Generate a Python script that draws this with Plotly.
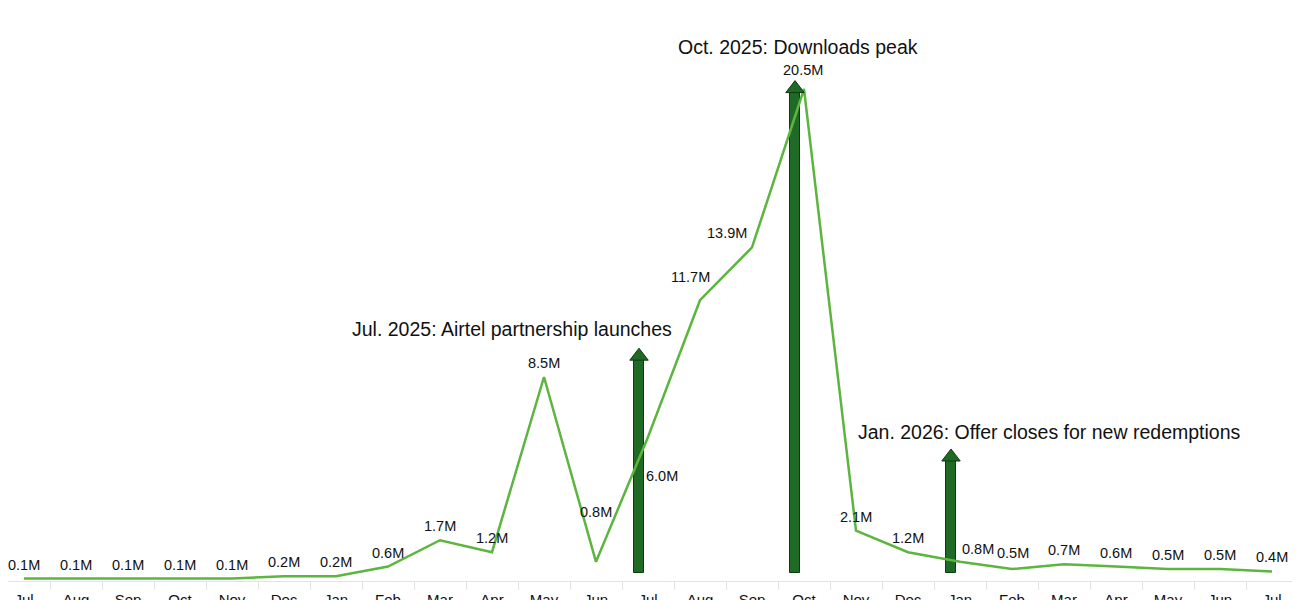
import plotly.graph_objects as go

# Monthly downloads, Jul 2024 - Jul 2026 (millions)
months = ["Jul", "Aug", "Sep", "Oct", "Nov", "Dec", "Jan", "Feb", "Mar", "Apr", "May", "Jun",
          "Jul", "Aug", "Sep", "Oct", "Nov", "Dec", "Jan", "Feb", "Mar", "Apr", "May", "Jun", "Jul"]
downloads = [0.1, 0.1, 0.1, 0.1, 0.1, 0.2, 0.2, 0.6, 1.7, 1.2, 8.5, 0.8,
             6.0, 11.7, 13.9, 20.5, 2.1, 1.2, 0.8, 0.5, 0.7, 0.6, 0.5, 0.5, 0.4]

# Event markers (arrows): month index, arrow tip value, caption
event_idx = [12, 15, 18]
event_tip = [9.7, 20.85, 5.5]
event_text = ["Jul. 2025: Airtel partnership launches",
              "Oct. 2025: Downloads peak",
              "Jan. 2026: Offer closes for new redemptions"]

x = list(range(len(months)))

# pixel helpers (24 px per million, 52 px per month)
PX_Y = 1 / 24
PX_X = 1 / 52
arrow_dx = -9 * PX_X
arrow_base = 0.35

LINE_GREEN = "#5cb53f"
ARROW_GREEN = "#1f6b26"
ARROW_EDGE = "#0e3a12"
FONT = "Arial, Liberation Sans, sans-serif"

fig = go.Figure()

fig.add_trace(
    go.Scatter(
        x=x,
        y=downloads,
        mode="lines",
        line=dict(color=LINE_GREEN, width=2.5),
        hoverinfo="skip",
    )
)

# arrow shafts
shaft_top = [t - 11 * PX_Y for t in event_tip]
fig.add_trace(
    go.Bar(
        x=[event_idx[i] + arrow_dx for i in range(3)],
        y=[s - arrow_base for s in shaft_top],
        base=arrow_base,
        width=10 * PX_X,
        marker=dict(color=ARROW_GREEN, line=dict(color=ARROW_EDGE, width=1)),
        hoverinfo="skip",
    )
)
# arrow heads
fig.add_trace(
    go.Scatter(
        x=[event_idx[i] + arrow_dx for i in range(3)],
        y=[t - 8 * PX_Y for t in event_tip],
        mode="markers",
        marker=dict(symbol="triangle-up", size=16, color=ARROW_GREEN,
                    line=dict(color=ARROW_EDGE, width=1)),
        hoverinfo="skip",
    )
)

# value labels (default: centred ~14px above the point; a few nudged)
label_shift = {11: (0, 50), 12: (14, -39), 13: (-10, 23), 14: (-25, 14),
               15: (-1, 19), 18: (18, 13), 19: (1, 16)}
for i, v in enumerate(downloads):
    dx, dy = label_shift.get(i, (0, 14))
    fig.add_annotation(
        x=i, y=v, text=f"{v:.1f}M", showarrow=False,
        xshift=dx, yshift=dy,
        font=dict(family=FONT, size=14.5, color="#111111"),
    )

# event captions
caption_pos = [(9.38, 10.48), (14.88, 22.27), (19.73, 6.19)]
for (cx, cy), txt in zip(caption_pos, event_text):
    fig.add_annotation(
        x=cx, y=cy, text=txt, showarrow=False,
        font=dict(family=FONT, size=19.5, color="#111111"),
    )

# page has an 8px body margin; place the axes so month centres land where the reference has them
x0 = -16 * PX_X
fig.update_layout(
    width=1300,
    height=600,
    margin=dict(l=0, r=0, t=10, b=27),
    plot_bgcolor="white",
    paper_bgcolor="white",
    showlegend=False,
    bargap=0,
    font=dict(family=FONT, size=15, color="#111111"),
)
fig.update_xaxes(
    range=[x0, x0 + 1300 * PX_X],
    tickmode="array",
    tickvals=x,
    ticktext=months,
    ticks="outside",
    ticklen=5,
    tickcolor="rgba(0,0,0,0)",
    tickfont=dict(family=FONT, size=15, color="#111111"),
    showgrid=False,
    zeroline=False,
    showline=True,
    linecolor="#e3e3e3",
    linewidth=1,
    minor=dict(tick0=0.5, dtick=1, ticks="outside", ticklen=8,
               tickcolor="#e3e3e3", showgrid=False),
    automargin=False,
)
fig.update_yaxes(
    range=[0, 563 * PX_Y],
    visible=False,
    automargin=False,
)

fig.write_html("out.html")
